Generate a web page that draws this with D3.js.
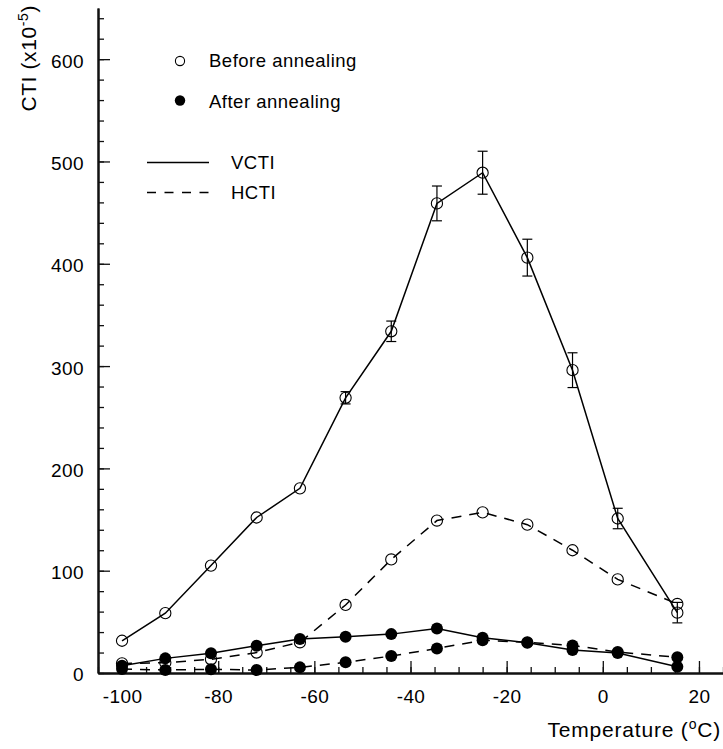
<!DOCTYPE html>
<html>
<head>
<meta charset="utf-8">
<script src="https://cdn.jsdelivr.net/npm/d3@7"></script>
<style>
  body { margin: 0; background: #fff; }
  text { font-family: "Liberation Sans", Arial, sans-serif; fill: #000; }
</style>
</head>
<body>
<div id="chart"></div>
<script>
// CONST and GLOBALS
const width = 723,
  height = 749,
  margin = { top: 8, bottom: 76, left: 98, right: 0 };

// temperatures (deg C) shared by all four series
const temperature = [-100, -91, -81.5, -72, -63, -53.5, -44, -34.5, -25, -15.7, -6.3, 3.1, 15.5];

// before annealing
const vctiBefore = [31.5, 58.5, 105, 152, 180.5, 269, 334, 459, 489, 406, 296, 151, 59];
const vctiBeforeErr = [0, 0, 0, 0, 0, 6, 10, 17, 21, 18, 17, 10, 10];
const hctiBefore = [9.4, 10, 13.4, 20, 30, 66.5, 111, 149, 157, 145, 120, 91.5, 67.5];

// after annealing
const vctiAfter = [7, 14.3, 19.2, 26.7, 33.3, 35.5, 38, 43.6, 34.5, 29.6, 22.5, 19.5, 6.2];
const hctiAfter = [3.9, 2.9, 3.6, 2.9, 5.5, 10.4, 16.6, 24, 32, 30, 27, 20.5, 15.3];

const xTicks = [-100, -80, -60, -40, -20, 0, 20];
const yTicks = [0, 100, 200, 300, 400, 500, 600];

let svg, xScale, yScale;

function series(values, err) {
  return temperature.map((t, i) => ({ t: t, v: values[i], e: err ? err[i] : 0 }));
}

function init() {
  svg = d3.select("#chart").append("svg")
    .attr("width", width)
    .attr("height", height);

  // SCALES
  xScale = d3.scaleLinear().domain([-105, 25]).range([margin.left, width - margin.right]);
  yScale = d3.scaleLinear().domain([0, 650]).range([height - margin.bottom, margin.top]);

  // AXES - ticks point inwards, minor ticks drawn by a second axis
  // plain hyphen for negatives, like the original
  const fmt = (d) => String(d);
  const xMinor = d3.axisBottom(xScale).tickValues(d3.range(-105, 26, 5)).tickSize(-6).tickFormat("").tickSizeOuter(0);
  const xMajor = d3.axisBottom(xScale).tickValues(xTicks).tickSize(-12).tickSizeOuter(0).tickPadding(16.5).tickFormat(fmt);
  const yMinor = d3.axisLeft(yScale).tickValues(d3.range(0, 641, 20)).tickSize(-6).tickFormat("").tickSizeOuter(0);
  const yMajor = d3.axisLeft(yScale).tickValues(yTicks).tickSize(-12).tickSizeOuter(0).tickPadding(14).tickFormat(fmt);

  [xMinor, xMajor].forEach((ax) => {
    svg.append("g")
      .attr("class", "axis x-axis")
      .attr("transform", `translate(0,${height - margin.bottom})`)
      .call(ax);
  });
  [yMinor, yMajor].forEach((ax) => {
    svg.append("g")
      .attr("class", "axis y-axis")
      .attr("transform", `translate(${margin.left},0)`)
      .call(ax);
  });

  svg.selectAll(".axis path").attr("stroke", "#111").attr("stroke-width", 2);
  svg.selectAll(".axis line").attr("stroke", "#111").attr("stroke-width", 1.3);
  svg.selectAll(".axis text")
    .attr("font-size", 19)
    .attr("letter-spacing", "0.4px")
    .attr("fill", "#000")
    .attr("font-family", "Liberation Sans, Arial, sans-serif");
  svg.selectAll(".y-axis text").attr("dy", "0.42em");

  // axis titles
  const xTitle = svg.append("text")
    .attr("x", 721)
    .attr("y", 737)
    .attr("text-anchor", "end")
    .attr("font-size", 21)
    .attr("letter-spacing", "0.8px");
  xTitle.append("tspan").text("Temperature (");
  xTitle.append("tspan").attr("font-size", 14).attr("dy", -8).text("o");
  xTitle.append("tspan").attr("dy", 8).text("C)");

  const yTitle = svg.append("text")
    .attr("transform", "translate(36,5) rotate(-90)")
    .attr("text-anchor", "end")
    .attr("font-size", 21)
    .attr("letter-spacing", "0.6px");
  yTitle.append("tspan").text("CTI (x10");
  yTitle.append("tspan").attr("font-size", 14).attr("dy", -8).text("-5");
  yTitle.append("tspan").attr("dy", 8).text(")");

  // legend
  const legend = svg.append("g").attr("class", "legend");
  legend.append("circle").attr("cx", 180).attr("cy", 61).attr("r", 4.6)
    .attr("fill", "none").attr("stroke", "#000").attr("stroke-width", 1.1);
  legend.append("text").attr("x", 209).attr("y", 67).text("Before annealing");
  legend.append("circle").attr("cx", 180).attr("cy", 100.5).attr("r", 5.2).attr("fill", "#000");
  legend.append("text").attr("x", 209).attr("y", 108).text("After annealing");
  legend.append("line").attr("x1", 147).attr("x2", 209).attr("y1", 162.5).attr("y2", 162.5)
    .attr("stroke", "#000").attr("stroke-width", 1.5);
  legend.append("text").attr("x", 231).attr("y", 169).text("VCTI");
  legend.append("line").attr("x1", 147).attr("x2", 209).attr("y1", 192.5).attr("y2", 192.5)
    .attr("stroke", "#000").attr("stroke-width", 1.5).attr("stroke-dasharray", "9,8.5");
  legend.append("text").attr("x", 231).attr("y", 199).text("HCTI");
  legend.selectAll("text").attr("font-size", 18.5).attr("letter-spacing", "0.5px");

  draw();
}

function draw() {
  const line = d3.line().x((d) => xScale(d.t)).y((d) => yScale(d.v));

  const lines = [
    { data: series(hctiAfter), dash: "10,8" },
    { data: series(vctiAfter), dash: null },
    { data: series(hctiBefore), dash: "10,8" },
    { data: series(vctiBefore), dash: null },
  ];
  svg.selectAll(".series")
    .data(lines)
    .join("path")
    .attr("class", "series")
    .attr("d", (d) => line(d.data))
    .attr("fill", "none")
    .attr("stroke", "#000")
    .attr("stroke-width", 1.5)
    .attr("stroke-dasharray", (d) => d.dash);

  // error bars on VCTI before annealing
  const errData = series(vctiBefore, vctiBeforeErr).filter((d) => d.e > 0);
  const eb = svg.selectAll(".errbar").data(errData).join("g").attr("class", "errbar")
    .attr("stroke", "#000").attr("stroke-width", 1.2);
  eb.append("line")
    .attr("x1", (d) => xScale(d.t)).attr("x2", (d) => xScale(d.t))
    .attr("y1", (d) => yScale(d.v - d.e)).attr("y2", (d) => yScale(d.v + d.e));
  eb.append("line")
    .attr("x1", (d) => xScale(d.t) - 5).attr("x2", (d) => xScale(d.t) + 5)
    .attr("y1", (d) => yScale(d.v + d.e)).attr("y2", (d) => yScale(d.v + d.e));
  eb.append("line")
    .attr("x1", (d) => xScale(d.t) - 5).attr("x2", (d) => xScale(d.t) + 5)
    .attr("y1", (d) => yScale(d.v - d.e)).attr("y2", (d) => yScale(d.v - d.e));

  // open markers (before annealing)
  svg.selectAll(".dot-open")
    .data(series(vctiBefore).concat(series(hctiBefore)))
    .join("circle")
    .attr("class", "dot-open")
    .attr("cx", (d) => xScale(d.t))
    .attr("cy", (d) => yScale(d.v))
    .attr("r", 5.6)
    .attr("fill", "none")
    .attr("stroke", "#000")
    .attr("stroke-width", 1.1);

  // filled markers (after annealing)
  svg.selectAll(".dot-filled")
    .data(series(vctiAfter).concat(series(hctiAfter)))
    .join("circle")
    .attr("class", "dot-filled")
    .attr("cx", (d) => xScale(d.t))
    .attr("cy", (d) => yScale(d.v))
    .attr("r", 6)
    .attr("fill", "#000");
}

init();
</script>
</body>
</html>
